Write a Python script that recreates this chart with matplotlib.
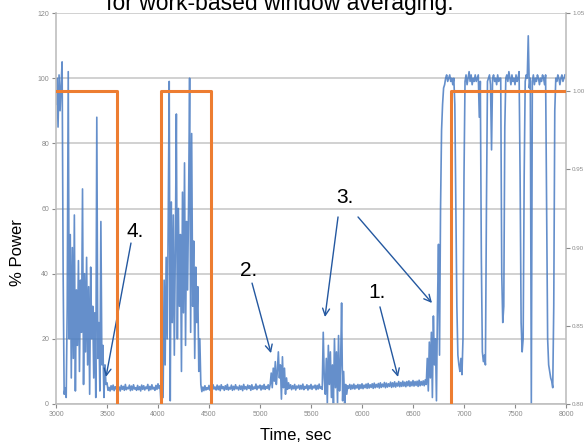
import numpy as np
import matplotlib.pyplot as plt

plt.rcParams['font.family'] = ['Liberation Sans', 'DejaVu Sans']

# power trace, one sample every 10 s (each row = 100 s)
time_s = np.arange(3000, 8000, 10)
power_pct = [
    92, 100, 85, 101, 90, 98, 105, 40, 3, 5,            # 3000
    2, 30, 102, 20, 52, 8, 48, 14, 58, 4,               # 3100
    35, 18, 44, 10, 38, 22, 66, 6, 40, 16,              # 3200
    45, 12, 36, 3, 42, 20, 30, 8, 28, 2,                # 3300
    88, 14, 25, 4, 56, 12, 18, 2, 12, 6,                # 3400
    6.5, 4.2, 5.1, 4.0, 5.6, 4.4, 5.8, 4.1, 5.3, 4.6,   # 3500
    5.9, 4.3, 5.2, 4.0, 5.7, 4.5, 5.4, 4.2, 6.0, 4.4,   # 3600
    5.1, 4.7, 5.8, 4.1, 5.5, 4.3, 5.9, 4.6, 5.0, 4.2,   # 3700
    5.7, 4.4, 5.3, 4.0, 5.8, 4.5, 5.6, 4.3, 5.2, 4.7,   # 3800
    6.0, 4.1, 5.4, 4.4, 5.9, 4.6, 5.1, 4.2, 5.7, 4.5,   # 3900
    6.2, 4.8, 5.6, 0, 30, 2, 38, 12, 45, 20,            # 4000
    55, 99, 1, 62, 25, 58, 15, 48, 89, 20,              # 4100
    60, 30, 52, 10, 65, 28, 74, 18, 56, 35,             # 4200
    62, 100, 22, 83, 30, 50, 14, 42, 25, 36,            # 4300
    10, 20, 6, 3.8, 5.2, 4.1, 5.6, 4.3, 5.0, 4.5,       # 4400
    5.7, 4.2, 5.4, 4.0, 5.9, 4.6, 5.2, 4.3, 5.8, 4.4,   # 4500
    5.5, 4.1, 5.9, 4.7, 5.3, 4.2, 5.6, 4.5, 6.0, 4.3,   # 4600
    5.1, 4.6, 5.8, 4.2, 5.4, 4.4, 5.9, 4.7, 5.2, 4.3,   # 4700
    5.7, 4.5, 5.5, 4.1, 6.0, 4.6, 5.3, 4.4, 5.8, 4.8,   # 4800
    5.6, 4.2, 5.9, 4.5, 5.2, 4.7, 6.1, 4.4, 5.5, 4.9,   # 4900
    5.8, 4.3, 5.6, 4.6, 6.0, 4.5, 5.4, 4.8, 5.9, 4.4,   # 5000
    6, 9.5, 5, 11, 7, 13, 6, 10, 16, 8,                 # 5100
    12, 1.5, 14.5, 5, 11, 3, 8, 4.5, 6.5, 4.8,          # 5200
    5.9, 4.4, 5.6, 4.7, 6.0, 4.3, 5.5, 4.9, 5.8, 4.5,   # 5300
    5.7, 4.6, 6.1, 4.4, 5.4, 4.8, 5.9, 4.3, 5.6, 4.7,   # 5400
    6.0, 4.5, 5.5, 4.9, 5.8, 4.4, 5.7, 4.6, 6.1, 4.8,   # 5500
    5.2, 4.5, 22, 8, 3, 14, 0, 18, 6, 16,               # 5600
    2, 12, 0, 20, 5, 16, 0, 21, 4, 12,                  # 5700
    31, 1, 10, 0, 6, 3, 5.6, 4.8, 6.0, 4.5,             # 5800
    5.8, 4.7, 6.1, 4.6, 5.7, 4.9, 6.0, 4.5, 5.9, 4.8,   # 5900
    6.2, 4.7, 5.8, 5.0, 6.1, 4.8, 6.3, 4.9, 5.9, 5.1,   # 6000
    6.2, 4.8, 6.4, 5.0, 6.0, 5.2, 6.3, 4.9, 6.5, 5.1,   # 6100
    6.1, 5.3, 6.6, 5.0, 6.4, 5.2, 6.2, 5.4, 6.7, 5.1,   # 6200
    6.5, 5.3, 6.8, 5.2, 6.4, 5.5, 6.9, 5.3, 6.6, 5.4,   # 6300
    7.0, 5.5, 6.7, 5.3, 6.9, 5.6, 7.1, 5.4, 6.8, 5.6,   # 6400
    7.2, 5.5, 6.9, 5.7, 7.0, 5.4, 7.3, 5.6, 6.9, 5.8,   # 6500
    7.1, 5.6, 7.4, 6, 14, 4, 19, 8, 22, 2,              # 6600
    27, 12, 20, 1, 30, 49, 15, 60, 84, 92,              # 6700
    97, 98, 100, 101, 99, 100, 101, 99, 100, 98,        # 6800
    100, 92, 60, 30, 15, 12, 10, 14, 9, 20,             # 6900
    70, 99, 101, 98, 100, 102, 99, 101, 98, 100,        # 7000
    99, 101, 99, 100, 101, 88, 99, 45, 16, 13,          # 7100
    15, 12, 60, 99, 100, 101, 98, 78, 100, 101,         # 7200
    99, 100, 98, 101, 99, 100, 100, 40, 25, 30,         # 7300
    85, 100, 101, 99, 102, 100, 98, 101, 99, 100,       # 7400
    98, 101, 99, 100, 102, 70, 25, 16, 20, 70,          # 7500
    99, 101, 100, 113, 97, 100, 0, 99, 101, 98,         # 7600
    100, 99, 101, 100, 98, 100, 99, 101, 100, 98,       # 7700
    101, 60, 20, 12, 10, 8, 7, 5, 30, 90,               # 7800
    100, 99, 101, 100, 98, 100, 101, 99, 100, 101,      # 7900
]

# on/off mode (right axis)
mode_t = [3000, 3600, 4030, 4520, 6870, 8000]
mode_v = [1.0, 0.79, 1.0, 0.79, 1.0, 1.0]

right_ticks = [0.8, 0.85, 0.9, 0.95, 1.0, 1.05]

grey = '#bfbfbf'
arrow_col = '#2458a0'

fig = plt.figure(figsize=(5.87, 4.45), dpi=100)
ax = fig.add_axes([56 / 587, 1 - 404 / 445, 510 / 587, 391 / 445])

ax.plot(time_s, power_pct, color='#4a7cc2', lw=1.2, alpha=0.85, zorder=2)
ax.set_xlim(3000, 8000)
ax.set_ylim(0, 120)
ax.set_xticks(range(3000, 8001, 500))
ax.set_yticks(range(0, 121, 20))
ax.grid(axis='y', color='#c9c9c9', lw=1.2)
ax.set_axisbelow(True)
for side in ['left', 'right', 'bottom']:
    ax.spines[side].set_color(grey)
    ax.spines[side].set_linewidth(1.2)
ax.spines['top'].set_visible(False)
ax.tick_params(labelsize=5, colors='#8a8a8a', length=3, width=0.8, pad=2)

ax2 = ax.twinx()
ax2.step(mode_t, mode_v, where='post', color='#ed7d31', lw=2.2)
ax2.set_ylim(0.8, 1.05)
ax2.set_yticks(right_ticks)
ax2.set_yticklabels([f'{v:.2f}' for v in right_ticks])
for side in ['left', 'right', 'bottom', 'top']:
    ax2.spines[side].set_visible(False)
ax2.tick_params(labelsize=4.5, colors='#8a8a8a', length=3, width=0.8, pad=1.5)

# numbered callouts
labels = [('4.', 3775, 52.8), ('2.', 4892, 41.1), ('3.', 5833, 63.5), ('1.', 6147, 34.1)]
for txt, x, y in labels:
    ax.text(x, y, txt, fontsize=15, ha='center', va='center', zorder=5)

arrows = [((3735, 49.4), (3490, 8.3)),
          ((4922, 37.1), (5108, 15.6)),
          ((5765, 57.4), (5637, 26.7)),
          ((5961, 57.4), (6686, 31.0)),
          ((6176, 29.8), (6353, 8.3))]
for tail, head in arrows:
    ax.annotate('', xy=head, xytext=tail, zorder=5,
                arrowprops=dict(arrowstyle='->,head_length=0.5,head_width=0.25',
                                color=arrow_col, lw=1.0,
                                shrinkA=0, shrinkB=0))

fig.text(280 / 587, 1 - 10 / 445, 'for work-based window averaging.',
         ha='center', va='baseline', fontsize=16.5)
fig.text(18 / 587, 1 - 253 / 445, '% Power', rotation=90,
         ha='center', va='center', fontsize=12)
fig.text(296 / 587, 1 - 436 / 445, 'Time, sec', ha='center', va='center', fontsize=12)

fig.savefig('out.png', dpi=100)
